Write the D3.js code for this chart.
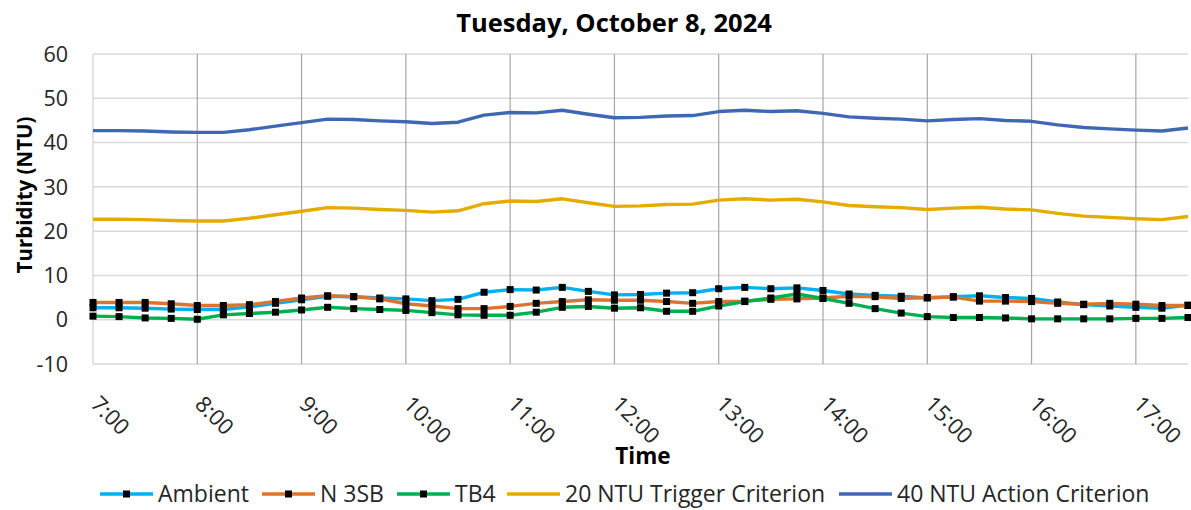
<!DOCTYPE html>
<html>
<head>
<meta charset="utf-8">
<script src="https://cdn.jsdelivr.net/npm/d3@7"></script>
<style>
  body { margin: 0; background: #ffffff; }
  svg { display: block; font-family: "Open Sans", "Noto Sans", sans-serif; }
</style>
</head>
<body>
<svg id="chart" width="1191" height="510"></svg>
<script>
// Turbidity readings for one day, 15-minute samples, with the two criteria lines.

const times = [
  "7:00", "7:15", "7:30", "7:45", "8:00", "8:15", "8:30", "8:45",
  "9:00", "9:15", "9:30", "9:45", "10:00", "10:15", "10:30", "10:45",
  "11:00", "11:15", "11:30", "11:45", "12:00", "12:15", "12:30", "12:45",
  "13:00", "13:15", "13:30", "13:45", "14:00", "14:15", "14:30", "14:45",
  "15:00", "15:15", "15:30", "15:45", "16:00", "16:15", "16:30", "16:45",
  "17:00", "17:15", "17:30"
];

const ambient = [
  2.7, 2.7, 2.6, 2.4, 2.3, 2.3, 2.9, 3.7, 4.5, 5.3, 5.2, 4.9, 4.7, 4.3, 4.6, 6.2,
  6.8, 6.7, 7.3, 6.4, 5.6, 5.7, 6.0, 6.1, 7.0, 7.3, 7.0, 7.2, 6.6, 5.8, 5.5, 5.3,
  4.9, 5.2, 5.4, 5.0, 4.8, 4.0, 3.4, 3.1, 2.8, 2.6, 3.3
];

const n3sb = [
  3.9, 3.9, 3.9, 3.6, 3.2, 3.2, 3.4, 4.1, 4.9, 5.4, 5.2, 4.7, 3.6, 3.1, 2.5, 2.5,
  3.0, 3.7, 4.1, 4.5, 4.4, 4.4, 4.1, 3.7, 4.1, 4.2, 4.6, 4.7, 4.9, 5.3, 5.2, 4.8,
  5.0, 5.1, 4.2, 4.2, 4.1, 3.7, 3.5, 3.7, 3.5, 3.2, 3.2
];

const tb4 = [
  0.8, 0.7, 0.4, 0.3, 0.1, 1.1, 1.4, 1.7, 2.2, 2.8, 2.5, 2.3, 2.1, 1.6, 1.1, 1.0,
  1.0, 1.7, 2.8, 3.0, 2.6, 2.7, 1.9, 1.9, 3.1, 4.1, 4.9, 5.8, 4.8, 3.7, 2.5, 1.5,
  0.7, 0.5, 0.5, 0.4, 0.2, 0.2, 0.2, 0.2, 0.3, 0.3, 0.5
];

const trigger = [
  22.7, 22.7, 22.6, 22.4, 22.3, 22.3, 22.9, 23.7, 24.5, 25.3, 25.2, 24.9, 24.7, 24.3, 24.6, 26.2,
  26.8, 26.7, 27.3, 26.4, 25.6, 25.7, 26.0, 26.1, 27.0, 27.3, 27.0, 27.2, 26.6, 25.8, 25.5, 25.3,
  24.9, 25.2, 25.4, 25.0, 24.8, 24.0, 23.4, 23.1, 22.8, 22.6, 23.3
];

const action = [
  42.7, 42.7, 42.6, 42.4, 42.3, 42.3, 42.9, 43.7, 44.5, 45.3, 45.2, 44.9, 44.7, 44.3, 44.6, 46.2,
  46.8, 46.7, 47.3, 46.4, 45.6, 45.7, 46.0, 46.1, 47.0, 47.3, 47.0, 47.2, 46.6, 45.8, 45.5, 45.3,
  44.9, 45.2, 45.4, 45.0, 44.8, 44.0, 43.4, 43.1, 42.8, 42.6, 43.3
];

const hourTicks = ["7:00", "8:00", "9:00", "10:00", "11:00", "12:00", "13:00",
                   "14:00", "15:00", "16:00", "17:00"];
const yTicks = [-10, 0, 10, 20, 30, 40, 50, 60];

const seriesNames = ["Ambient", "N 3SB", "TB4", "20 NTU Trigger Criterion", "40 NTU Action Criterion"];
const seriesColors = ["#00B0F0", "#DB7431", "#00B050", "#E5AC00", "#4068B2"];

function drawTurbidity() {
  const svg = d3.select("#chart");
  const width = +svg.attr("width");

  const margin = { top: 54, right: 3, bottom: 146, left: 93 };
  const plotW = width - margin.left - margin.right;
  const plotH = 510 - margin.top - margin.bottom;

  const parse = d3.timeParse("%H:%M");

  const x = d3.scaleTime()
    .domain([parse("7:00"), parse("17:30")])
    .range([0, plotW]);

  const y = d3.scaleLinear()
    .domain([-10, 60])
    .range([plotH, 0]);

  const g = svg.append("g")
    .attr("transform", `translate(${margin.left},${margin.top})`);

  // horizontal gridlines
  g.selectAll(".hgrid")
    .data(yTicks)
    .join("line")
    .attr("x1", 0)
    .attr("x2", plotW)
    .attr("y1", d => y(d))
    .attr("y2", d => y(d))
    .attr("stroke", "#d9d9d9")
    .attr("stroke-width", 1.5);

  // left edge
  g.append("line")
    .attr("x1", 0).attr("x2", 0)
    .attr("y1", 0).attr("y2", plotH)
    .attr("stroke", "#d9d9d9")
    .attr("stroke-width", 1.5);

  // hourly vertical gridlines
  g.selectAll(".vgrid")
    .data(hourTicks.slice(1))
    .join("line")
    .attr("x1", d => x(parse(d)))
    .attr("x2", d => x(parse(d)))
    .attr("y1", 0)
    .attr("y2", plotH)
    .attr("stroke", "#a6a6a6")
    .attr("stroke-width", 1.2);

  // y tick labels
  g.selectAll(".ylab")
    .data(yTicks)
    .join("text")
    .attr("x", -25)
    .attr("y", d => y(d))
    .attr("dy", "0.36em")
    .attr("text-anchor", "end")
    .attr("font-size", 21.5)
    .attr("fill", "#262626")
    .text(d => d);

  // x tick labels, rotated 45 degrees
  g.selectAll(".xlab")
    .data(hourTicks)
    .join("text")
    .attr("transform", d => `translate(${x(parse(d)) + 2},${plotH + 36}) rotate(45)`)
    .attr("dy", "0.36em")
    .attr("text-anchor", "start")
    .attr("font-size", 22)
    .attr("fill", "#262626")
    .text(d => d);

  const allSeries = [ambient, n3sb, tb4, trigger, action];
  const line = d3.line()
    .x((d, i) => x(parse(times[i])))
    .y(d => y(d));

  allSeries.forEach((values, si) => {
    g.append("path")
      .datum(values)
      .attr("fill", "none")
      .attr("stroke", seriesColors[si])
      .attr("stroke-width", 3.4)
      .attr("stroke-linejoin", "round")
      .attr("d", line);

    if (si < 3) {
      g.selectAll(`.mk${si}`)
        .data(values)
        .join("rect")
        .attr("x", (d, i) => x(parse(times[i])) - 3.5)
        .attr("y", d => y(d) - 3.5)
        .attr("width", 7)
        .attr("height", 7)
        .attr("fill", "#000000");
    }
  });

  // titles
  svg.append("text")
    .attr("x", 614)
    .attr("y", 32)
    .attr("text-anchor", "middle")
    .attr("font-size", 25.5)
    .attr("font-weight", "700")
    .attr("fill", "#000000")
    .text("Tuesday, October 8, 2024");

  svg.append("text")
    .attr("x", 643)
    .attr("y", 464)
    .attr("text-anchor", "middle")
    .attr("font-size", 22.5)
    .attr("font-weight", "700")
    .attr("fill", "#000000")
    .text("Time");

  svg.append("text")
    .attr("transform", "translate(32,195) rotate(-90)")
    .attr("text-anchor", "middle")
    .attr("font-size", 20.5)
    .attr("font-weight", "700")
    .attr("fill", "#000000")
    .text("Turbidity (NTU)");

  // legend
  const legendX = [100, 262, 397, 507, 839];
  const legendY = 494;
  const leg = svg.selectAll(".leg")
    .data(seriesNames)
    .join("g")
    .attr("transform", (d, i) => `translate(${legendX[i]},${legendY})`);

  leg.append("line")
    .attr("x1", 0).attr("x2", 53)
    .attr("y1", 0).attr("y2", 0)
    .attr("stroke", (d, i) => seriesColors[i])
    .attr("stroke-width", 3.4);

  leg.filter((d, i) => i < 3)
    .append("rect")
    .attr("x", 23).attr("y", -3.5)
    .attr("width", 7).attr("height", 7)
    .attr("fill", "#000000");

  leg.append("text")
    .attr("x", 58)
    .attr("y", 0)
    .attr("dy", "0.36em")
    .attr("font-size", 23)
    .attr("fill", "#262626")
    .text(d => d);
}

drawTurbidity();
</script>
</body>
</html>
